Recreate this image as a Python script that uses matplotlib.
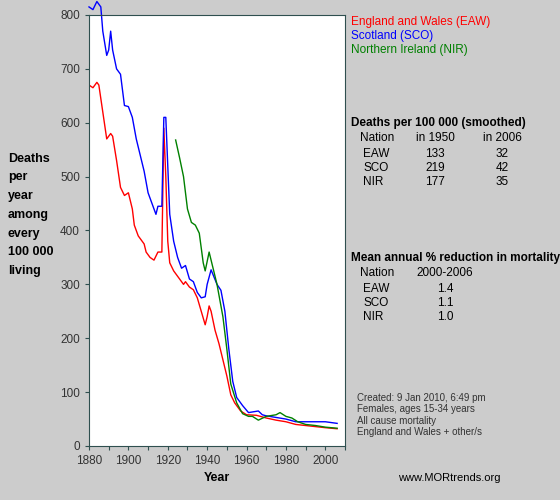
import numpy as np
import matplotlib
matplotlib.use("Agg")
import matplotlib.pyplot as plt

plt.rcParams['font.family'] = ['Liberation Sans', 'DejaVu Sans']

# smoothed deaths per 100 000, females 15-34
eaw_year = [1880, 1882, 1884, 1885, 1887, 1889, 1891, 1892, 1894, 1896, 1898, 1900, 1902, 1903, 1905,
            1908, 1909, 1911, 1913, 1915, 1917, 1918, 1919, 1920, 1921, 1923, 1926, 1928, 1929, 1931,
            1933, 1935, 1937, 1939, 1940, 1941, 1942, 1944, 1946, 1948, 1950, 1952, 1954, 1957, 1960,
            1965, 1970, 1975, 1980, 1985, 1990, 1995, 2000, 2006]
eaw_val = [670, 665, 675, 670, 620, 570, 580, 575, 530, 480, 465, 470, 440, 410, 390,
           375, 360, 350, 345, 360, 360, 590, 500, 380, 340, 325, 310, 300, 305, 295,
           290, 275, 250, 225, 240, 260, 250, 215, 190, 160, 130, 95, 80, 65, 58,
           57, 52, 48, 45, 40, 38, 36, 34, 32]

sco_year = [1880, 1882, 1884, 1886, 1887, 1889, 1890, 1891, 1892, 1894, 1896, 1898, 1900, 1902, 1904,
            1906, 1908, 1910, 1912, 1914, 1915, 1917, 1918, 1919, 1920, 1921, 1923, 1925, 1927, 1929,
            1931, 1933, 1935, 1937, 1939, 1940, 1942, 1945, 1947, 1949, 1951, 1953, 1955, 1958, 1961,
            1966, 1968, 1970, 1975, 1980, 1985, 1990, 1995, 2000, 2006]
sco_val = [815, 810, 825, 815, 770, 725, 735, 770, 735, 700, 690, 632, 630, 610, 570,
           540, 510, 470, 450, 430, 445, 445, 610, 610, 520, 430, 380, 350, 330, 335,
           310, 305, 285, 275, 277, 300, 327, 300, 289, 250, 180, 120, 90, 75, 62,
           65, 58, 56, 53, 50, 45, 45, 45, 45, 42]

nir_year = [1924, 1926, 1928, 1930, 1932, 1934, 1936, 1938, 1939, 1941, 1943, 1945, 1948, 1950, 1952,
            1955, 1958, 1961, 1963, 1966, 1970, 1975, 1977, 1980, 1983, 1986, 1990, 1995, 2000, 2006]
nir_val = [568, 535, 500, 440, 415, 410, 395, 340, 325, 360, 330, 300, 240, 180, 115,
           80, 60, 55, 55, 48, 55, 58, 62, 55, 52, 45, 40, 38, 35, 33]

bg = '#cccccc'
fig = plt.figure(figsize=(5.6, 5.0), dpi=100, facecolor=bg)
ax = fig.add_axes([89/560, 1-446/500, (345-89)/560, (446-15)/500])
ax.plot(eaw_year, eaw_val, color='#ff0000', lw=1)
ax.plot(sco_year, sco_val, color='#0000ff', lw=1, clip_on=False)
ax.plot(nir_year, nir_val, color='#008000', lw=1)
ax.set_xlim(1880, 2010)
ax.set_ylim(0, 800)
ax.set_xticks(range(1880, 2011, 10))
ax.set_xticklabels([str(y) if y % 20 == 0 else '' for y in range(1880, 2011, 10)])
ax.set_yticks(range(0, 801, 100))
for s in ax.spines.values():
    s.set_color('#2f4f4f')
ax.tick_params(colors='#2f4f4f', labelcolor='#333333', labelsize=8.5, length=3)

fig.text(8/560, 1-215/500, 'Deaths\nper\nyear\namong\nevery\n100 000\nliving', fontsize=9,
         fontweight='bold', va='center', ha='left', linespacing=1.75)
fig.text(217/560, 1-478/500, 'Year', fontsize=9, fontweight='bold', va='center', ha='center')

tx = 351/560
fig.text(tx, 1-22/500, 'England and Wales (EAW)', color='#ff0000', fontsize=8.5, va='center')
fig.text(tx, 1-36/500, 'Scotland (SCO)', color='#0000ff', fontsize=8.5, va='center')
fig.text(tx, 1-50/500, 'Northern Ireland (NIR)', color='#008000', fontsize=8.5, va='center')

fig.text(tx, 1-123/500, 'Deaths per 100 000 (smoothed)', fontsize=8.5, fontweight='bold', va='center')
rows1 = [('Nation', 'in 1950', 'in 2006'), ('EAW', '133', '32'), ('SCO', '219', '42'), ('NIR', '177', '35')]
ys1 = [138, 154, 168, 182]
for (a, b, c), y in zip(rows1, ys1):
    x0 = 360 if a == 'Nation' else 363
    fig.text(x0/560, 1-y/500, a, fontsize=8.5, va='center')
    fig.text(435/560, 1-y/500, b, fontsize=8.5, va='center', ha='center')
    fig.text(502/560, 1-y/500, c, fontsize=8.5, va='center', ha='center')

fig.text(tx, 1-258/500, 'Mean annual % reduction in mortality', fontsize=8.5, fontweight='bold', va='center')
rows2 = [('Nation', '2000-2006'), ('EAW', '1.4'), ('SCO', '1.1'), ('NIR', '1.0')]
ys2 = [273, 289, 303, 317]
for (a, b), y in zip(rows2, ys2):
    x0 = 360 if a == 'Nation' else 363
    fig.text(x0/560, 1-y/500, a, fontsize=8.5, va='center')
    fig.text(445/560, 1-y/500, b, fontsize=8.5, va='center', ha='center')

notes = 'Created: 9 Jan 2010, 6:49 pm\nFemales, ages 15-34 years\nAll cause mortality\nEngland and Wales + other/s'
fig.text(357/560, 1-415/500, notes, fontsize=7, va='center', color='#333333', linespacing=1.2)
fig.text(398/560, 1-478/500, 'www.MORtrends.org', fontsize=8, va='center')

fig.savefig('out.png', dpi=100, facecolor=bg)
